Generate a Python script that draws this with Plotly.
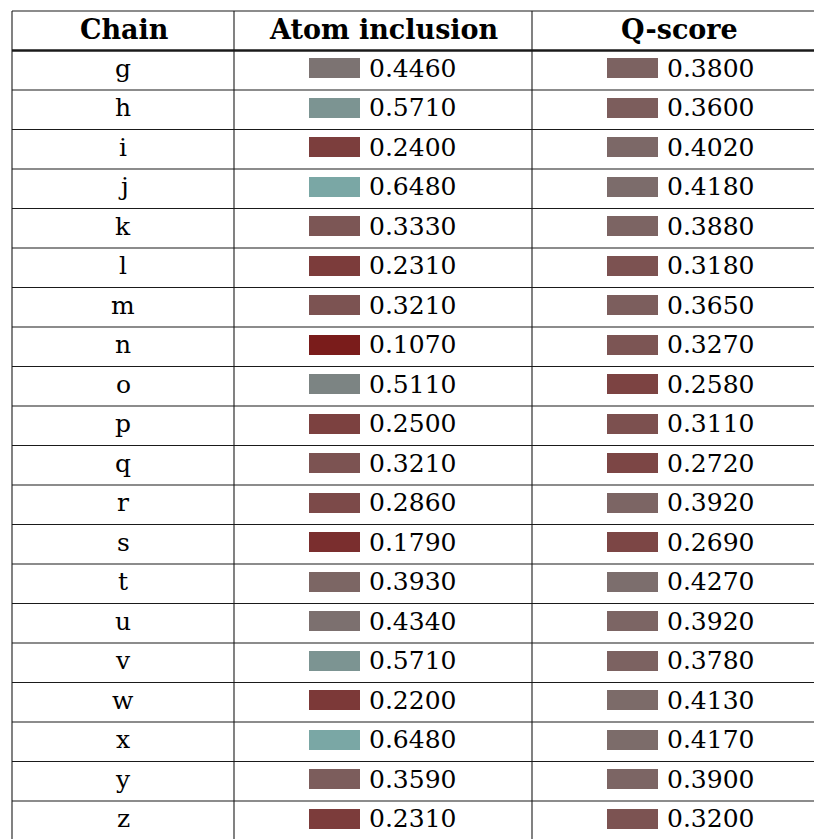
import numpy as np
import plotly.graph_objects as go

chains = ["g", "h", "i", "j", "k", "l", "m", "n", "o", "p", "q", "r", "s", "t", "u", "v", "w", "x", "y", "z"]
atom_inclusion = [0.4460, 0.5710, 0.2400, 0.6480, 0.3330, 0.2310, 0.3210, 0.1070, 0.5110, 0.2500,
                  0.3210, 0.2860, 0.1790, 0.3930, 0.4340, 0.5710, 0.2200, 0.6480, 0.3590, 0.2310]
q_score = [0.3800, 0.3600, 0.4020, 0.4180, 0.3880, 0.3180, 0.3650, 0.3270, 0.2580, 0.3110,
           0.2720, 0.3920, 0.2690, 0.4270, 0.3920, 0.3780, 0.4130, 0.4170, 0.3900, 0.3200]
headers = ["Chain", "Atom inclusion", "Q-score"]

ROW_PX = 39.5
TOP_PX = 11
W, H = 822, 839
OFF = 8  # page body margin
FONT = "DejaVu Serif"
FS = 25
FS_HEAD = 27


def swatch_color(v):
    lo = np.array([122, 0, 0], float)
    hi = np.array([122, 168, 166], float)
    t = np.clip(v / 0.65, 0, 1)
    c = lo + (hi - lo) * t
    if 0.3 < t < 0.9:
        c[0] += 2
    return "rgb(%d,%d,%d)" % tuple(np.round(c).astype(int))


n = len(chains)
rows = np.arange(n) + 1.5 - 2.0 / ROW_PX  # centre of each data row (slightly raised)

fig = go.Figure()
sw_w = 51
sw_h = 20 / ROW_PX
for vals, base in [(atom_inclusion, 309), (q_score, 607)]:
    fig.add_trace(go.Bar(
        orientation="h", y=rows, x=[sw_w] * n, base=[base] * n, width=sw_h,
        marker=dict(color=[swatch_color(v) for v in vals], line=dict(width=0)),
        showlegend=False, hoverinfo="skip",
    ))

ann = []
col_centres = [124, 384, 679]
for h, cx in zip(headers, col_centres):
    ann.append(dict(x=cx, y=0.5 - 1.0 / ROW_PX, text="<b>%s</b>" % h, showarrow=False,
                    xanchor="center", yanchor="middle",
                    font=dict(family=FONT, size=FS_HEAD, color="black")))
for i, c in enumerate(chains):
    ann.append(dict(x=123, y=rows[i], text=c, showarrow=False, xanchor="center", yanchor="middle",
                    font=dict(family=FONT, size=FS, color="black")))
for vals, tx in [(atom_inclusion, 367), (q_score, 665)]:
    for i, v in enumerate(vals):
        ann.append(dict(x=tx, y=rows[i], text="%.4f" % v, showarrow=False, xanchor="left",
                        yanchor="middle", font=dict(family=FONT, size=FS, color="black")))

shapes = []
ybottom = (H - TOP_PX) / ROW_PX + 1
for k in range(0, n + 2):
    lw = 2.5 if k == 1 else 1.1
    shapes.append(dict(type="line", xref="x", yref="y", x0=12, x1=W + 20, y0=k, y1=k,
                       line=dict(color="#1a1a1a", width=lw)))
for xv in [12, 234, 532]:
    shapes.append(dict(type="line", xref="x", yref="y", x0=xv, x1=xv, y0=0, y1=ybottom,
                       line=dict(color="#1a1a1a", width=1.1)))

fig.update_layout(
    width=W, height=H, margin=dict(l=0, r=0, t=0, b=0),
    paper_bgcolor="white", plot_bgcolor="white",
    xaxis=dict(range=[OFF, W + OFF], visible=False, fixedrange=True),
    yaxis=dict(range=[(H + OFF - TOP_PX) / ROW_PX, (OFF - TOP_PX) / ROW_PX],
               visible=False, fixedrange=True),
    annotations=ann, shapes=shapes, barmode="overlay", bargap=0,
)
fig.write_html("out.html")
